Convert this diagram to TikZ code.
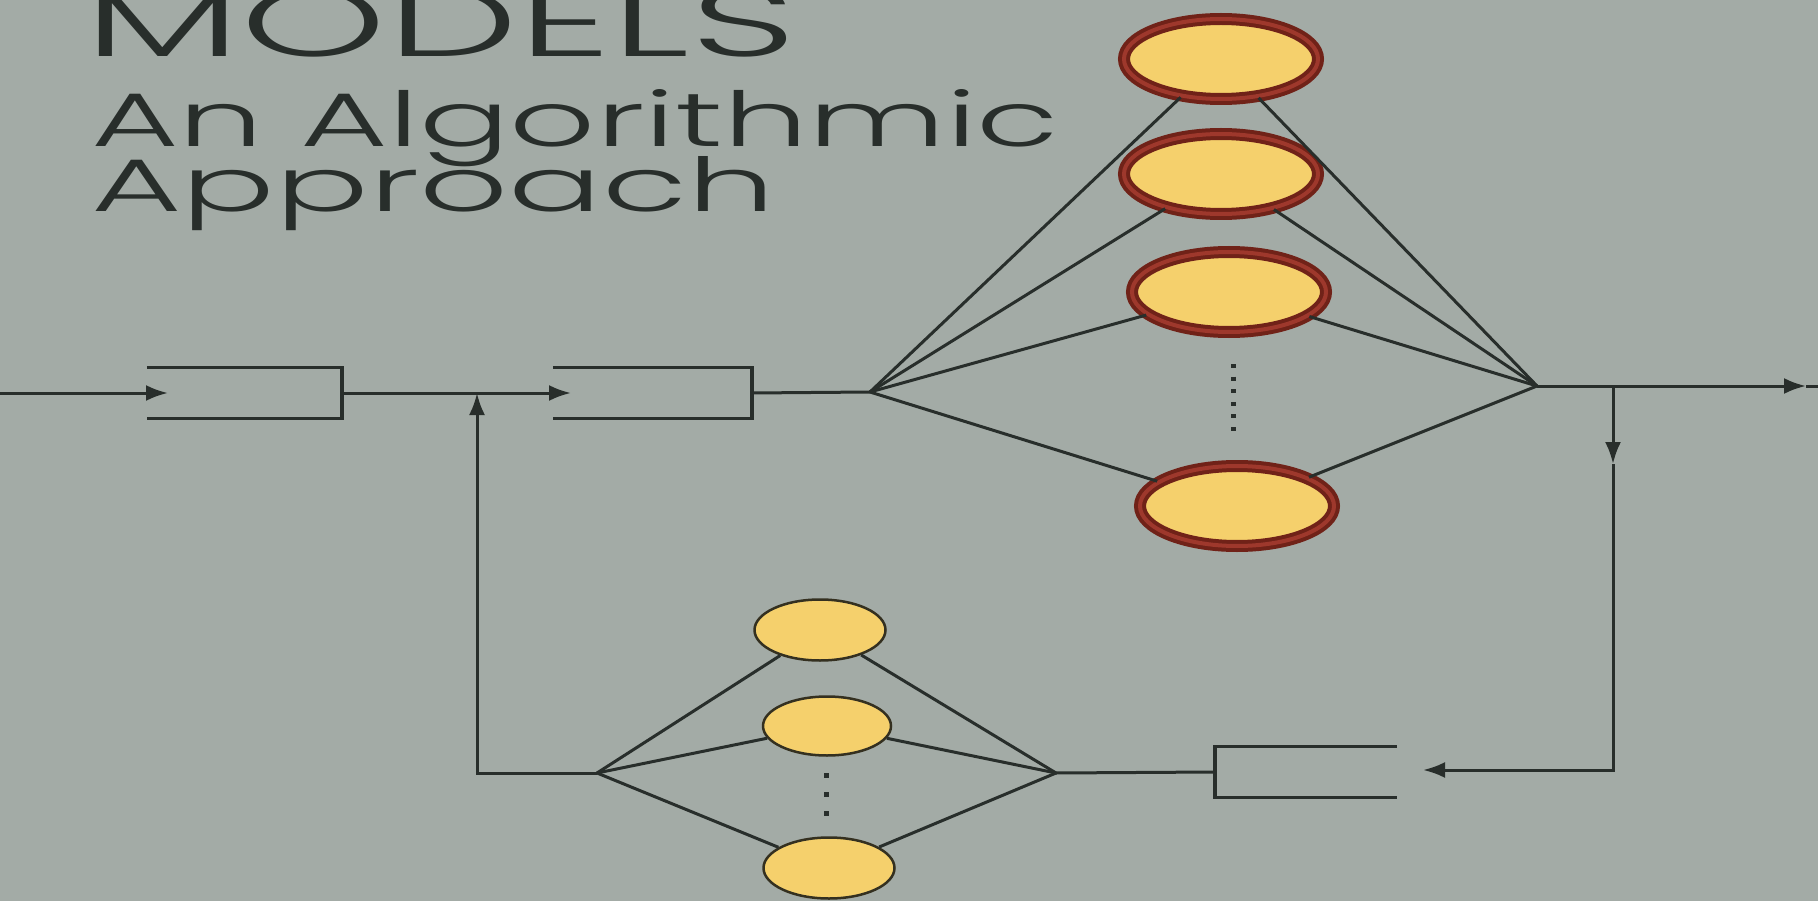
\documentclass[tikz,border=0pt]{standalone}
\usepackage{fontspec}
\usepackage{graphicx}
\newfontfamily\titlefont{Poppins Light}
\usetikzlibrary{shapes.geometric,arrows.meta}
\definecolor{bgc}{RGB}{163,171,166}
\definecolor{ink}{RGB}{40,46,43}
\definecolor{yel}{RGB}{245,208,108}
\definecolor{ring}{RGB}{112,34,24}
\definecolor{ringin}{RGB}{158,56,44}
\definecolor{beadrim}{RGB}{52,48,32}
\begin{document}
\begin{tikzpicture}[x=1pt,y=-1pt,
  wire/.style={draw=ink,line width=3pt},
  arr/.style={wire,-{Latex[length=22pt,width=16pt]}},
  queue/.style={rectangle,inner sep=0pt,minimum width=#1,minimum height=51pt},
  server/.style={ellipse,inner sep=0pt,fill=yel,draw=ring,double=ringin,double distance=4pt,line width=4pt,minimum width=194pt,minimum height=80pt},
  bead/.style={ellipse,inner sep=0pt,fill=yel,draw=beadrim,line width=2.5pt,minimum width=131pt,minimum height=61pt},
  ttl/.style={anchor=base west,inner sep=0pt,text=ink,font=\titlefont}]
\fill[bgc] (0,0) rectangle (1818,901);
\useasboundingbox (0,0) rectangle (1818,901);

% title
\node[ttl] (t1) at (84,57) {\resizebox{712pt}{68pt}{MODELS}};
\node[ttl] (t2) at (91,147) {\resizebox{968pt}{57pt}{An Algorithmic}};
\node[ttl] (t3) at (91,212) {\resizebox{684pt}{55pt}{Approach}};

% queues
\node[queue=195pt] (b1) at (244.5,393) {};
\node[queue=199pt] (b2) at (652.5,393) {};
\node[queue=182pt] (b3) at (1306,772) {};
\draw[wire,line width=3.5pt] (b1.north west) -- (b1.north east) -- (b1.south east) -- (b1.south west);
\draw[wire,line width=3.5pt] (b2.north west) -- (b2.north east) -- (b2.south east) -- (b2.south west);
\draw[wire,line width=3.5pt] (b3.north east) -- (b3.north west) -- (b3.south west) -- (b3.south east);

% servers
\node[server] (e1) at (1221,59) {};
\node[server] (e2) at (1221,174) {};
\node[server] (e3) at (1229,292) {};
\node[server] (e4) at (1237,506) {};
\node[bead] (s1) at (820,630) {};
\node[bead,minimum width=128pt,minimum height=59pt] (s2) at (827,726) {};
\node[bead] (s3) at (829,868) {};

% coordinates
\coordinate (in) at (0,393);
\coordinate (inTip) at (168,393);
\coordinate (b2tip) at (571,393);
\coordinate (J) at (477,393);
\coordinate (C) at (477,773);
\coordinate (L) at (870,392);
\coordinate (R) at (1537,386);
\coordinate (B) at (1613,386);
\coordinate (outTip) at (1806,386);
\coordinate (outEnd) at (1818,386);
\coordinate (dTip) at (1613,464);
\coordinate (D) at (1613,770);
\coordinate (lTip) at (1423,770);
\coordinate (LL) at (597,773);
\coordinate (RR) at (1056,773);

% connectors
\draw[arr] (in) -- (inTip);
\draw[arr] (b1.east) -- (b2tip);
\draw[arr] (LL) -- (C) -- (J);
\draw[wire] (b2.east) -- (L);
\foreach \e in {e1,e2,e3,e4} \draw[wire] (L) -- (\e) (\e) -- (R);
\draw[arr] (R) -- (outTip);
\draw[wire] (outTip) -- (outEnd);
\draw[arr] (B) -- (dTip);
\draw[arr] (dTip) -- (D) -- (lTip);
\draw[wire] (RR) -- (b3.west);
\foreach \s in {s1,s2,s3} \draw[wire] (LL) -- (\s) (\s) -- (RR);

% dots
\draw[ink,line width=5pt,dash pattern=on 4pt off 8.6pt] (1233,364) -- (1233,432);
\draw[ink,line width=5pt,dash pattern=on 5pt off 14pt] (826,773) -- (826,818);
\end{tikzpicture}
\end{document}
